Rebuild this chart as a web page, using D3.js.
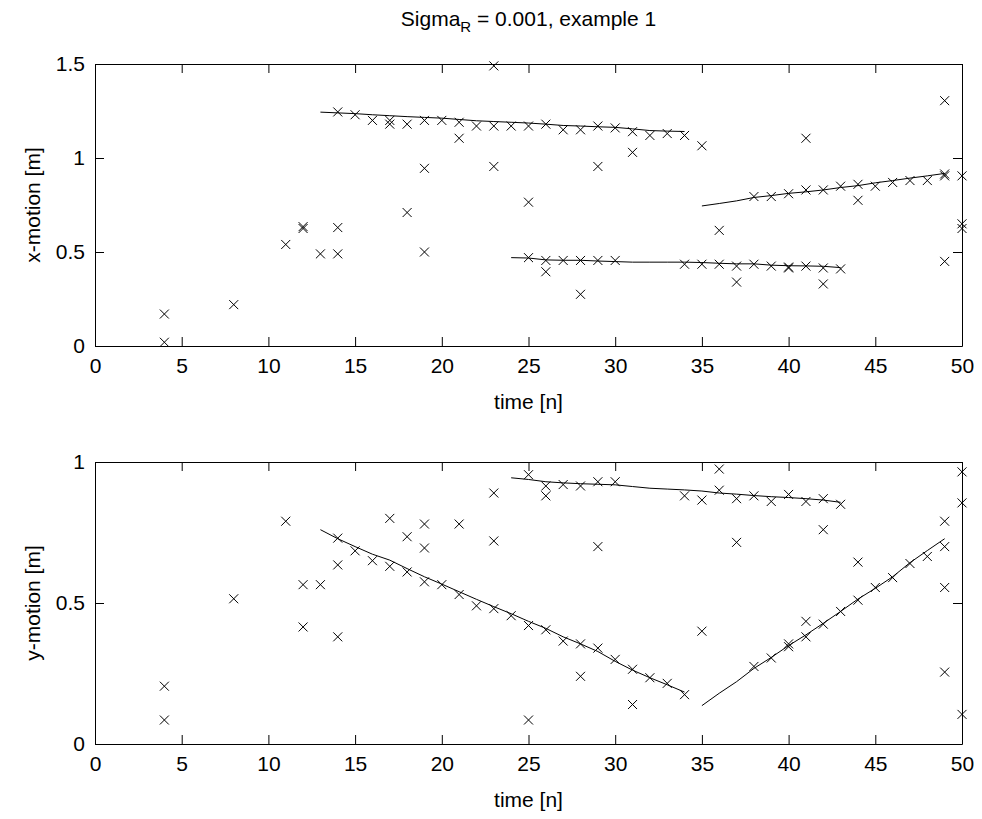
<!DOCTYPE html>
<html>
<head>
<meta charset="utf-8">
<script src="https://cdn.jsdelivr.net/npm/d3@7"></script>
<style>
  html, body { margin: 0; padding: 0; background: #fff; }
  svg { display: block; }
  text { font-family: "Liberation Sans", Arial, sans-serif; fill: #000; }
</style>
</head>
<body>
<svg id="chart" width="982" height="819"></svg>
<script>
// ---------------- data ----------------
const xTicks = [0, 5, 10, 15, 20, 25, 30, 35, 40, 45, 50];
const topYTicks = [0, 0.5, 1, 1.5];
const botYTicks = [0, 0.5, 1];

// x-motion measurements
const xMeasT = [4,4,8,11,12,12,13,14,14,14,15,16,17,17,18,18,19,19,19,20,21,21,22,23,23,23,24,25,25,25,26,26,26,27,27,28,28,28,29,29,29,30,30,31,31,32,33,34,34,35,35,36,36,37,37,38,38,39,39,40,40,40,41,41,41,42,42,42,43,43,44,44,45,46,47,48,49,49,49,49,50,50,50];
const xMeasV = [0.17,0.02,0.22,0.54,0.625,0.635,0.49,0.49,0.63,1.245,1.23,1.20,1.20,1.18,1.18,0.71,1.20,0.945,0.50,1.20,1.19,1.105,1.17,1.17,1.49,0.955,1.17,1.17,0.765,0.47,1.18,0.455,0.395,1.15,0.455,1.15,0.455,0.275,1.17,0.955,0.455,1.16,0.455,1.14,1.03,1.12,1.13,1.12,0.435,1.065,0.435,0.435,0.615,0.425,0.34,0.435,0.795,0.425,0.795,0.415,0.42,0.81,0.425,0.83,1.105,0.415,0.33,0.83,0.41,0.85,0.86,0.775,0.85,0.87,0.88,0.88,1.305,0.905,0.915,0.45,0.905,0.65,0.625];

// y-motion measurements
const yMeasT = [4,4,8,11,12,12,13,14,14,14,15,16,17,17,18,18,19,19,19,20,21,21,22,23,23,23,24,25,25,25,26,26,26,27,27,28,28,28,29,29,29,30,30,31,31,32,33,34,34,35,35,36,36,37,37,38,38,39,39,40,40,40,41,41,41,42,42,42,43,43,44,44,45,46,47,48,49,49,49,49,50,50,50];
const yMeasV = [0.205,0.085,0.515,0.79,0.565,0.415,0.565,0.73,0.635,0.38,0.685,0.65,0.63,0.80,0.735,0.61,0.78,0.695,0.575,0.565,0.78,0.53,0.49,0.89,0.72,0.48,0.455,0.955,0.42,0.085,0.915,0.88,0.405,0.92,0.365,0.915,0.355,0.24,0.93,0.70,0.34,0.93,0.30,0.265,0.14,0.235,0.215,0.175,0.88,0.865,0.40,0.975,0.90,0.87,0.715,0.88,0.275,0.86,0.305,0.885,0.345,0.355,0.86,0.435,0.38,0.87,0.76,0.425,0.85,0.47,0.645,0.51,0.555,0.59,0.64,0.665,0.79,0.70,0.555,0.255,0.965,0.855,0.105];

// estimated tracks (start time + consecutive values)
const trackStarts = [13, 24, 35];
const xTrackA = [1.244,1.240,1.236,1.230,1.225,1.220,1.216,1.212,1.205,1.198,1.194,1.190,1.186,1.180,1.173,1.170,1.166,1.163,1.155,1.146,1.143,1.141];
const xTrackB = [0.470,0.468,0.458,0.456,0.456,0.452,0.449,0.446,0.446,0.446,0.446,0.444,0.440,0.437,0.437,0.430,0.427,0.426,0.424,0.417];
const xTrackC = [0.745,0.758,0.772,0.790,0.800,0.812,0.820,0.830,0.843,0.853,0.868,0.880,0.893,0.905,0.918];
const yTrackA = [0.760,0.728,0.700,0.673,0.652,0.622,0.593,0.567,0.540,0.513,0.487,0.462,0.435,0.410,0.380,0.355,0.328,0.293,0.262,0.235,0.210,0.184];
const yTrackB = [0.944,0.938,0.930,0.926,0.923,0.921,0.919,0.913,0.907,0.904,0.901,0.897,0.890,0.886,0.881,0.877,0.874,0.870,0.865,0.857];
const yTrackC = [0.136,0.180,0.221,0.268,0.307,0.349,0.387,0.428,0.470,0.514,0.552,0.593,0.643,0.686,0.728];

// ---------------- drawing ----------------
const svg = d3.select("#chart");
const FS = 21;
const left = 95, right = 962;

function panel(cfg) {
  const x = d3.scaleLinear().domain([0, 50]).range([left, right]);
  const y = d3.scaleLinear().domain(cfg.yDomain).range([cfg.bottom, cfg.top]);
  const g = svg.append("g");

  // axes (MATLAB style box with inward ticks)
  const ax = [
    g.append("g").attr("transform", `translate(0,${cfg.bottom})`)
      .call(d3.axisBottom(x).tickValues(xTicks).tickSize(-9).tickSizeOuter(0).tickPadding(12).tickFormat(d3.format("d"))),
    g.append("g").attr("transform", `translate(0,${cfg.top})`)
      .call(d3.axisTop(x).tickValues(xTicks).tickSize(-9).tickSizeOuter(0).tickFormat("")),
    g.append("g").attr("transform", `translate(${left},0)`)
      .call(d3.axisLeft(y).tickValues(cfg.yTicks).tickSize(-9).tickSizeOuter(0).tickPadding(10).tickFormat(d => d3.format("")(d))),
    g.append("g").attr("transform", `translate(${right},0)`)
      .call(d3.axisRight(y).tickValues(cfg.yTicks).tickSize(-9).tickSizeOuter(0).tickFormat(""))
  ];
  ax.forEach(a => {
    a.selectAll("path.domain").attr("stroke", "#000").attr("stroke-width", 1);
    a.selectAll(".tick line").attr("stroke", "#000").attr("stroke-width", 1);
    a.selectAll(".tick text").attr("font-size", FS).attr("font-family", "Liberation Sans, Arial, sans-serif").attr("fill", "#000");
  });

  // tracks
  const line = d3.line().x(d => x(d[0])).y(d => y(d[1]));
  cfg.tracks.forEach((vals, i) => {
    const pts = vals.map((v, k) => [trackStarts[i] + k, v]);
    g.append("path").datum(pts).attr("d", line)
      .attr("fill", "none").attr("stroke", "#000").attr("stroke-width", 1);
  });

  // measurement crosses
  const s = 4.5;
  const pts = cfg.t.map((t, i) => [t, cfg.v[i]]);
  g.append("g").selectAll("path.cross").data(pts).join("path")
    .attr("class", "cross")
    .attr("d", d => {
      const cx = x(d[0]), cy = y(d[1]);
      return `M${cx - s},${cy - s}L${cx + s},${cy + s}M${cx - s},${cy + s}L${cx + s},${cy - s}`;
    })
    .attr("stroke", "#000").attr("stroke-width", 1).attr("fill", "none");

  // labels
  g.append("text").attr("x", (left + right) / 2).attr("y", cfg.bottom + 63)
    .attr("text-anchor", "middle").attr("font-size", FS).text("time [n]");
  g.append("text")
    .attr("transform", `translate(40,${(cfg.top + cfg.bottom) / 2}) rotate(-90)`)
    .attr("text-anchor", "middle").attr("font-size", FS).text(cfg.ylabel);
}

panel({ top: 64, bottom: 346, yDomain: [0, 1.5], yTicks: topYTicks,
        t: xMeasT, v: xMeasV, tracks: [xTrackA, xTrackB, xTrackC], ylabel: "x-motion [m]" });
panel({ top: 462, bottom: 744, yDomain: [0, 1], yTicks: botYTicks,
        t: yMeasT, v: yMeasV, tracks: [yTrackA, yTrackB, yTrackC], ylabel: "y-motion [m]" });

// title with subscript
const title = svg.append("text").attr("x", (left + right) / 2).attr("y", 26)
  .attr("text-anchor", "middle").attr("font-size", FS);
title.append("tspan").text("Sigma");
title.append("tspan").attr("font-size", 15).attr("dy", 6).text("R");
title.append("tspan").attr("dy", -6).text(" = 0.001, example 1");
</script>
</body>
</html>
